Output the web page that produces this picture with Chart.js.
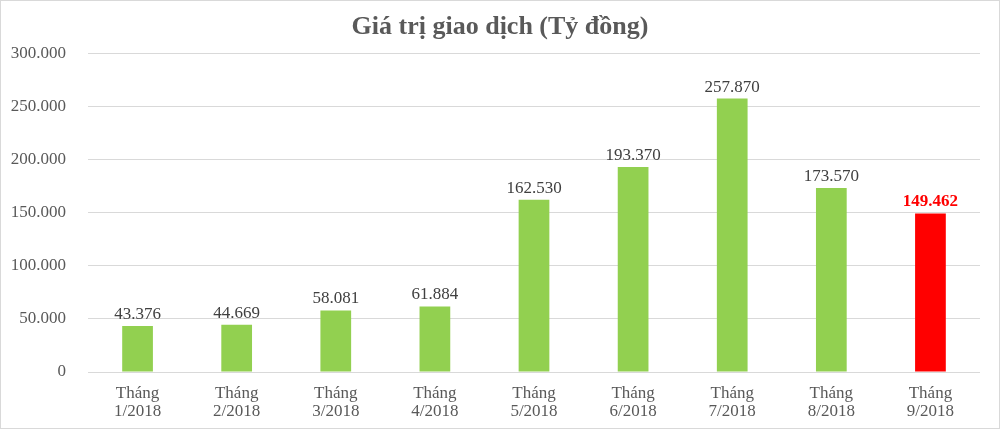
<!DOCTYPE html>
<html><head><meta charset="utf-8">
<script src="https://cdn.jsdelivr.net/npm/chart.js@4"></script>
<style>
html,body{margin:0;padding:0;background:#fff;}
#wrap{position:relative;width:998px;height:427px;border:1px solid #d9d9d9;}
</style></head><body>
<div id="wrap"><canvas id="c"></canvas></div>
<script>
const categories = [["Tháng","1/2018"],["Tháng","2/2018"],["Tháng","3/2018"],["Tháng","4/2018"],["Tháng","5/2018"],["Tháng","6/2018"],["Tháng","7/2018"],["Tháng","8/2018"],["Tháng","9/2018"]];
const values = [43376, 44669, 58081, 61884, 162530, 193370, 257870, 173570, 149462];
const valueLabels = ["43.376","44.669","58.081","61.884","162.530","193.370","257.870","173.570","149.462"];
const barColors = ["#92D050","#92D050","#92D050","#92D050","#92D050","#92D050","#92D050","#92D050","#FF0000"];
const yTicks = [0, 50000, 100000, 150000, 200000, 250000, 300000];
const FONT = "'Liberation Serif', 'Times New Roman', serif";

function fmt(v){ return v===0 ? "0" : v.toLocaleString('en-US').replace(/,/g,'.'); }

const labelPlugin = {
  id:'vlabels',
  afterDatasetsDraw(chart){
    const ctx = chart.ctx;
    const meta = chart.getDatasetMeta(0);
    ctx.save();
    ctx.textAlign='center';
    ctx.textBaseline='bottom';
    meta.data.forEach((bar,i)=>{
      const last = i===values.length-1;
      ctx.font = (last?'bold ':'') + '17px ' + FONT;
      ctx.fillStyle = last ? '#FF0000' : '#404040';
      ctx.fillText(valueLabels[i], bar.x, bar.y - 3);
    });
    ctx.restore();
  }
};

new Chart(document.getElementById('c'), {
  type:'bar',
  data:{ labels:categories, datasets:[{ data:values, backgroundColor:barColors, barPercentage:0.31, categoryPercentage:1.0 }]},
  options:{
    responsive:true, maintainAspectRatio:false, animation:false,
    layout:{ padding:{ left:0, right:0, top:0, bottom:0 } },
    plugins:{
      legend:{display:false}, tooltip:{enabled:false},
      title:{ display:true, text:'Giá trị giao dịch (Tỷ đồng)', color:'#595959',
        font:{ family:FONT, size:26, weight:'bold', lineHeight:1.15 }, padding:{ top:11, bottom:12 } }
    },
    scales:{
      x:{ grid:{ display:false, drawTicks:false }, border:{display:false},
        afterFit(s){ s.height = 56; },
        ticks:{ color:'#595959', font:{family:FONT, size:17, lineHeight:1.08}, padding:12, maxRotation:0 } },
      y:{ min:0, max:300000, 
        afterBuildTicks(s){ s.ticks = yTicks.map(v=>({value:v})); },
        afterFit(s){ s.width = 87; },
        grid:{ color:'#d9d9d9', drawTicks:false }, border:{display:false},
        ticks:{ color:'#595959', font:{family:FONT, size:17}, padding:22, callback:(v)=>fmt(v) } },
      yR:{ position:'right', min:0, max:300000,
        afterFit(s){ s.width = 19; },
        grid:{ display:false, drawTicks:false }, border:{display:false},
        ticks:{ display:false } }
    }
  },
  plugins:[labelPlugin]
});
</script></body></html>
